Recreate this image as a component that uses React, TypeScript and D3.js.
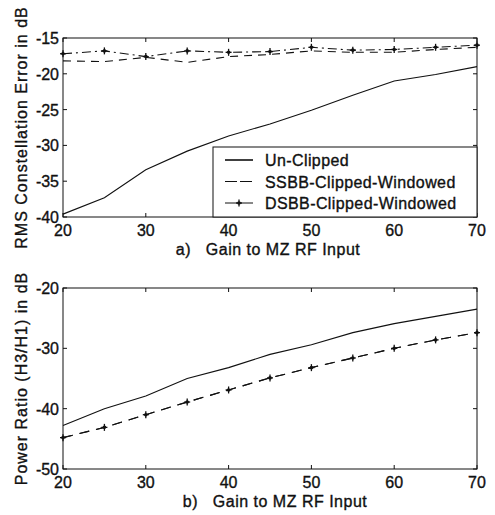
import React from "react";
import * as d3 from "d3";

const gains = [20, 25, 30, 35, 40, 45, 50, 55, 60, 65, 70];

// panel a) RMS constellation error (dB)
const unClipped = [-39.6, -37.3, -33.4, -30.8, -28.7, -27, -25.1, -23, -21, -20.1, -19];
const ssbbA = [-18.2, -18.3, -17.7, -18.4, -17.6, -17.3, -16.8, -17, -17, -16.6, -16.3];
const dsbbA = [-17.2, -16.8, -17.6, -16.8, -17, -16.9, -16.3, -16.7, -16.6, -16.3, -16];

// panel b) power ratio H3/H1 (dB)
const unClippedB = [-42.8, -40, -37.9, -35, -33.2, -31, -29.4, -27.4, -25.9, -24.7, -23.5];
const clippedB = [-44.8, -43.1, -41, -38.9, -36.9, -34.9, -33.2, -31.6, -30, -28.6, -27.4];

const xTicks = [20, 30, 40, 50, 60, 70];
const yTicksA = [-15, -20, -25, -30, -35, -40];
const yTicksB = [-20, -30, -40, -50];

const legendLabels = ["Un-Clipped", "SSBB-Clipped-Windowed", "DSBB-Clipped-Windowed"];

const font = "Arial, 'Liberation Sans', sans-serif";
const ink = "#111";

type Series = { values: number[]; dash?: string; markers?: boolean };

const Star = ({ tx, ty }: { tx: number; ty: number }) => (
  <g transform={`translate(${tx},${ty})`} stroke={ink} strokeWidth={1.3}>
    <line x1={-3} x2={3} y1={0} y2={0} />
    <line x1={0} x2={0} y1={-3.5} y2={3.5} />
    <circle r={1.8} fill={ink} stroke="none" />
  </g>
);

function Panel({
  top,
  bottom,
  yDomain,
  yTicks,
  series,
  yLabel,
  xLabel,
  xLabelX,
  legend,
}: {
  top: number;
  bottom: number;
  yDomain: [number, number];
  yTicks: number[];
  series: Series[];
  yLabel: string;
  xLabel: string;
  xLabelX: number;
  legend?: boolean;
}) {
  const left = 63;
  const right = 477;
  const x = d3.scaleLinear().domain([20, 70]).range([left, right]);
  const y = d3.scaleLinear().domain(yDomain).range([bottom, top]);
  const line = d3
    .line<number>()
    .x((_, i) => x(gains[i]))
    .y((d) => y(d));
  const tk = 4;
  const txt = { fontFamily: font, fill: ink, stroke: ink, strokeWidth: 0.35 };

  return (
    <g>
      {series.map((s, si) => (
        <g key={si}>
          <path d={line(s.values) || ""} fill="none" stroke={ink} strokeWidth={1.1} strokeDasharray={s.dash} />
          {s.markers && s.values.map((v, i) => <Star key={i} tx={x(gains[i])} ty={y(v)} />)}
        </g>
      ))}
      <rect x={left} y={top} width={right - left} height={bottom - top} fill="none" stroke={ink} strokeWidth={1} />
      {xTicks.map((t) => (
        <g key={t}>
          <line x1={x(t)} x2={x(t)} y1={bottom} y2={bottom - tk} stroke={ink} />
          <line x1={x(t)} x2={x(t)} y1={top} y2={top + tk} stroke={ink} />
          <text x={x(t)} y={bottom + 19} textAnchor="middle" fontSize={16} {...txt}>
            {t}
          </text>
        </g>
      ))}
      {yTicks.map((t) => (
        <g key={t}>
          <line x1={left} x2={left + tk} y1={y(t)} y2={y(t)} stroke={ink} />
          <line x1={right} x2={right - tk} y1={y(t)} y2={y(t)} stroke={ink} />
          <text x={left - 4} y={y(t) + 6} textAnchor="end" fontSize={16} {...txt}>
            {t}
          </text>
        </g>
      ))}
      <text x={xLabelX} y={bottom + 38} textAnchor="middle" fontSize={16} letterSpacing={0.5} xmlSpace="preserve" {...txt}>
        {xLabel}
      </text>
      <text
        transform={`translate(27,${(top + bottom) / 2}) rotate(-90)`}
        textAnchor="middle"
        fontSize={16}
        letterSpacing={1}
        {...txt}
      >
        {yLabel}
      </text>
      {legend && (
        <g>
          <rect x={213} y={147} width={right - 213} height={bottom - 147} fill="#fff" stroke={ink} />
          {legendLabels.map((lab, i) => {
            const ly = 160 + i * 21.5;
            const s = series[i];
            return (
              <g key={lab}>
                <line
                  x1={225}
                  x2={253}
                  y1={ly}
                  y2={ly}
                  stroke={ink}
                  strokeWidth={i === 0 ? 1.6 : 1}
                  strokeDasharray={i === 1 ? "12 3" : undefined}
                />
                {s.markers && <Star tx={239} ty={ly} />}
                <text x={265} y={ly + 6} fontSize={16} letterSpacing={0.4} {...txt}>
                  {lab}
                </text>
              </g>
            );
          })}
        </g>
      )}
    </g>
  );
}

export default function App() {
  return (
    <svg width={495} height={515} style={{ position: "absolute", left: 0, top: 0, background: "#fff" }}>
      <Panel
        top={38}
        bottom={217}
        yDomain={[-40, -15]}
        yTicks={yTicksA}
        series={[
          { values: unClipped },
          { values: ssbbA, dash: "8 6" },
          { values: dsbbA, dash: "9 4 2 4", markers: true },
        ]}
        yLabel="RMS Constellation Error in dB"
        xLabel="a)   Gain to MZ RF Input"
        xLabelX={268}
        legend
      />
      <Panel
        top={288}
        bottom={469}
        yDomain={[-50, -20]}
        yTicks={yTicksB}
        series={[
          { values: unClippedB },
          { values: clippedB, dash: "10 7" },
          { values: clippedB, dash: "10 7", markers: true },
        ]}
        yLabel="Power Ratio (H3/H1) in dB"
        xLabel="b)   Gain to MZ RF Input"
        xLabelX={275}
      />
    </svg>
  );
}
